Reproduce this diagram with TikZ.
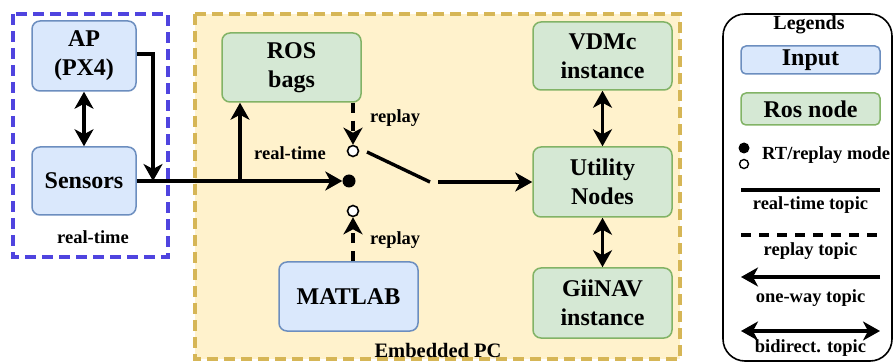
\documentclass[tikz,border=0pt]{standalone}
\usepackage{fontspec}
\setmainfont{Liberation Serif}
\usetikzlibrary{arrows.meta}
\definecolor{inpfill}{HTML}{DAE8FC}
\definecolor{inpdraw}{HTML}{6C8EBF}
\definecolor{rosfill}{HTML}{D5E8D4}
\definecolor{rosdraw}{HTML}{82B366}
\definecolor{pcfill}{HTML}{FFF2CC}
\definecolor{pcdraw}{HTML}{D6B656}
\definecolor{rtdraw}{HTML}{4F44DF}
\tikzset{
  boxbase/.style={rounded corners=8pt, line width=1.5pt, align=center, inner sep=0pt,
    font=\fontsize{24}{29}\selectfont\bfseries},
  inbox/.style={boxbase, fill=inpfill, draw=inpdraw},
  rosbox/.style={boxbase, fill=rosfill, draw=rosdraw},
  lbl/.style={font=\fontsize{18.5}{20}\selectfont\bfseries, inner sep=0pt},
  conn/.style={line width=3.4pt},
  tip/.style={-{Stealth[length=17pt,width=19pt,inset=5pt]}},
  bitip/.style={{Stealth[length=17pt,width=19pt,inset=5pt]}-{Stealth[length=17pt,width=19pt,inset=5pt]}},
  rdash/.style={dash pattern=on 10pt off 8pt},
  fdot/.style={circle, fill=black, minimum size=13pt, inner sep=0pt},
  odot/.style={circle, fill=white, draw=black, line width=1.6pt, minimum size=11pt, inner sep=0pt},
}
\begin{document}
\begin{tikzpicture}[x=1pt,y=-1pt]
\useasboundingbox (0,0) rectangle (894,363);
% group frames
\draw[pcdraw, fill=pcfill, line width=3.4pt, dash pattern=on 11pt off 6pt] (195,14) rectangle (680,359);
\draw[rtdraw, line width=3.4pt, dash pattern=on 11pt off 6pt] (13,14) rectangle (168,257);
\node[lbl] (rtlbl) at (93,237) {real-time};
\node[font=\fontsize{20.5}{22}\selectfont\bfseries, inner sep=0pt] (pclbl) at (438,350) {Embedded PC};

% nodes
\node[inbox, minimum width=104pt, minimum height=70pt] (ap) at (84,56) {AP\\(PX4)};
\node[inbox, minimum width=104pt, minimum height=68pt] (sens) at (84,181) {Sensors};
\node[rosbox, minimum width=139pt, minimum height=69pt] (bags) at (291.5,67.5) {ROS\\bags};
\node[inbox, minimum width=139pt, minimum height=69pt] (matlab) at (348.5,296.5) {MATLAB};
\node[rosbox, minimum width=139pt, minimum height=68pt] (vdmc) at (602.5,56) {VDMc\\instance};
\node[rosbox, minimum width=139pt, minimum height=70pt] (util) at (602.5,182) {Utility\\Nodes};
\node[rosbox, minimum width=139pt, minimum height=70pt] (gii) at (602.5,303) {GiiNAV\\instance};

% switch
\node[fdot] (sw) at (349,181) {};
\node[odot] (swtop) at (353,151) {};
\node[odot] (swbot) at (353,211) {};
\coordinate (swa) at (367,152);
\coordinate (swb) at (430,182);
\coordinate (swout) at (438,182);
\coordinate (branch) at (240,181);
\coordinate (apc1) at (153,54);
\coordinate (apc2) at (153,181);

% connectors
\draw[conn, bitip] (ap.south) -- (sens.north);
\draw[conn, tip] (ap.east |- apc1) -- (apc1) -- (apc2);
\draw[conn, tip] (sens.east) -- (sw.west);
\draw[conn, tip] (branch) -- (branch |- bags.south);
\draw[conn, rdash, tip] (bags.south -| swtop) -- (swtop.north);
\draw[conn, rdash, tip] (matlab.north -| swbot) -- (swbot.south);
\draw[conn] (swa) -- (swb);
\draw[conn, tip] (swout) -- (util.west);
\draw[conn, bitip] (vdmc.south) -- (util.north);
\draw[conn, bitip] (util.south) -- (gii.north);

\node[lbl] (lrt) at (290,153) {real-time};
\node[lbl, anchor=west] (lrp1) at (370,118) {replay};
\node[lbl, anchor=west] (lrp2) at (370,240) {replay};

% legend
\draw[line width=1.6pt, rounded corners=22pt] (723,14) rectangle (892,361);
\node[font=\fontsize{20}{22}\selectfont\bfseries, inner sep=0pt] (legt) at (809,25) {Legends};
\node[inbox, minimum width=139pt, minimum height=28pt, rounded corners=5pt] (linp) at (810.5,60) {Input};
\node[rosbox, minimum width=139pt, minimum height=32pt, rounded corners=5pt] (lros) at (810.5,109) {Ros node};
\node[fdot, minimum size=11pt] (lfd) at (744,148) {};
\node[odot, minimum size=9pt, line width=1.4pt] (lod) at (744,164) {};
\node[lbl, anchor=west] (lmode) at (762,155) {RT/replay mode};
\coordinate (l1a) at (741,190); \coordinate (l1b) at (880,190);
\draw[conn] (l1a) -- (l1b);
\node[lbl] (l1t) at (810.5,205) {real-time topic};
\coordinate (l2a) at (741,235); \coordinate (l2b) at (880,235);
\draw[conn, rdash] (l2a) -- (l2b);
\node[lbl] (l2t) at (810.5,251) {replay topic};
\coordinate (l3a) at (741,277); \coordinate (l3b) at (880,277);
\draw[conn, tip] (l3b) -- (l3a);
\node[lbl] (l3t) at (810.5,298) {one-way topic};
\coordinate (l4a) at (741,331); \coordinate (l4b) at (880,331);
\draw[conn, bitip] (l4a) -- (l4b);
\node[lbl] (l4t) at (810.5,348) {bidirect. topic};
\end{tikzpicture}
\end{document}
